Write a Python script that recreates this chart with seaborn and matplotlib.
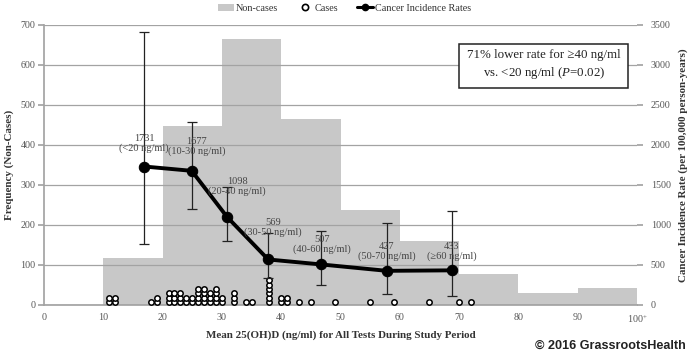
import numpy as np
import pandas as pd
import matplotlib
matplotlib.use('Agg')
import matplotlib.pyplot as plt
import seaborn as sns
from matplotlib.patches import Patch
from matplotlib.lines import Line2D

# Non-cases: frequency per 10 ng/ml bin
bin_edges = [10, 20, 30, 40, 50, 60, 70, 80, 90, 100]
noncase_counts = [118, 448, 666, 464, 237, 161, 77, 29, 42]

# Cases: one entry per case (mean 25(OH)D, ng/ml)
case_values = ([11, 11, 12, 12, 18, 19, 19]
               + [21] * 3 + [22] * 3 + [23] * 3 + [24] * 2 + [25] * 2
               + [26] * 4 + [27] * 4 + [28] * 3 + [29] * 4 + [30] * 2
               + [32] * 3 + [34, 35] + [38] * 6 + [40, 40, 41, 41]
               + [43, 45, 49, 55, 59, 65, 70, 72])

# Cancer incidence rates (per 100,000 person-years) with 95% CI
rate_x = [16.9, 24.9, 30.9, 37.8, 46.7, 57.8, 68.8]
rates = [1731, 1677, 1098, 569, 507, 427, 433]
rate_lo = [760, 1195, 800, 340, 250, 140, 115]
rate_hi = [3415, 2290, 1480, 895, 925, 1030, 1175]
rate_groups = ['<20', '10-30', '20-40', '30-50', '40-60', '50-70', '≥60']
x_ticks = [0, 10, 20, 30, 40, 50, 60, 70, 80, 90, 100]
x_ticklabels = ['0', '10', '20', '30', '40', '50', '60', '70', '80', '90', '100$^{+}$']

# label offsets in pixels (dx, dy) from each rate point
label_offsets = [(0, 23), (5, 24), (10, 31), (5, 32), (1, 20), (0, 19), (0, 19)]

sns.set_theme(style='white')
plt.rcParams['font.family'] = ['Liberation Serif', 'DejaVu Serif']
plt.rcParams['mathtext.fontset'] = 'custom'
plt.rcParams['mathtext.rm'] = 'Liberation Serif'
plt.rcParams['mathtext.it'] = 'Liberation Serif:italic'

bar_color = '#c8c8c8'
grid_color = '#a3a3a3'
tick_color = '#555555'

fig = plt.figure(figsize=(6.89, 3.57), dpi=100)
ax = fig.add_axes([0.0639, 0.1457, 0.8606, 0.7843])

centers = [(a + b) / 2 for a, b in zip(bin_edges[:-1], bin_edges[1:])]
sns.histplot(x=centers, weights=noncase_counts, bins=bin_edges, ax=ax,
             color=bar_color, alpha=1, linewidth=0, zorder=1)

dfCases = pd.DataFrame({'value': case_values})
dfCases['level'] = dfCases.groupby('value').cumcount()
dfCases['y'] = 7.5 + dfCases['level'] * 10.8
sns.scatterplot(data=dfCases, x='value', y='y', ax=ax, s=15, color='white',
                edgecolor='black', linewidth=1.1, zorder=4, legend=False)

ax.set_xlim(0, 100)
ax.set_ylim(0, 700)
ax.set_yticks(range(0, 701, 100))
ax.set_xticks(x_ticks)
ax.set_xticklabels(x_ticklabels)
ax.set_axisbelow(False)
ax.yaxis.grid(True, color=grid_color, linewidth=0.9, zorder=2)
ax.xaxis.grid(False)
for s in ['top', 'right']:
    ax.spines[s].set_visible(False)
ax.spines['bottom'].set_color(grid_color)
ax.spines['left'].set_color(grid_color)
ax.tick_params(axis='x', length=3, color=grid_color, labelsize=7.2, labelcolor=tick_color, pad=3)
ax.tick_params(axis='y', length=4, color=grid_color, labelsize=7.2, labelcolor=tick_color, pad=2, left=True)
ax.set_xlabel('Mean 25(OH)D (ng/ml) for All Tests During Study Period',
              fontsize=7.9, fontweight='bold', color='#333333', labelpad=4)
ax.set_ylabel('Frequency (Non-Cases)', fontsize=7.9, fontweight='bold', color='#333333', labelpad=5)

ax2 = ax.twinx()
yerr = [np.array(rates) - np.array(rate_lo), np.array(rate_hi) - np.array(rates)]
ax2.errorbar(rate_x, rates, yerr=yerr, fmt='none', ecolor='#222222',
             elinewidth=0.9, capsize=3.5, capthick=0.9, zorder=3)
sns.lineplot(x=rate_x, y=rates, ax=ax2, color='black', linewidth=2.8,
             marker='o', markersize=7.5, markeredgecolor='black', zorder=4)
ax2.set_ylim(0, 3500)
ax2.set_yticks(range(0, 3501, 500))
for s in ax2.spines.values():
    s.set_visible(False)
ax2.tick_params(axis='y', right=True, length=4, color=grid_color, labelsize=7.2,
                labelcolor=tick_color, pad=6)
ax2.set_ylabel('Cancer Incidence Rate (per 100,000 person-years)', fontsize=7.9,
               fontweight='bold', color='#333333', labelpad=5)

for x, r, g, (dx, dy) in zip(rate_x, rates, rate_groups, label_offsets):
    ax2.annotate(f'{r}\n({g} ng/ml)', xy=(x, r), xytext=(dx, dy),
                 textcoords='offset pixels', ha='center', va='center',
                 fontsize=7.5, color='#444444', linespacing=1.05, zorder=5)

ax.text(0.843, 0.857, '71% lower rate for ≥40 ng/ml\nvs. <20 ng/ml ($\\it{P}$=0.02)',
        transform=ax.transAxes, ha='center', va='center', fontsize=9.3, color='#222222',
        linespacing=1.3, zorder=6,
        bbox=dict(boxstyle='square,pad=0.6', facecolor='white', edgecolor='#222222', linewidth=1.1))

handles = [Patch(facecolor=bar_color, edgecolor='none'),
           Line2D([], [], linestyle='none', marker='o', markersize=4.5,
                  markerfacecolor='white', markeredgecolor='black', markeredgewidth=1.2),
           Line2D([], [], color='black', linewidth=2.2, marker='o', markersize=4.5)]
fig.legend(handles, ['Non-cases', 'Cases', 'Cancer Incidence Rates'],
           loc='upper center', bbox_to_anchor=(0.5, 1.015), ncol=3, frameon=False,
           fontsize=7.3, handlelength=1.6, handletextpad=0.2, columnspacing=1.8,
           labelcolor='#333333')

fig.text(0.996, 0.032, '© 2016 GrassrootsHealth', ha='right', va='center',
         fontsize=9.1, fontweight='bold', fontfamily=['Liberation Sans', 'DejaVu Sans'],
         color='#222222')

fig.savefig('out.png', dpi=100)
